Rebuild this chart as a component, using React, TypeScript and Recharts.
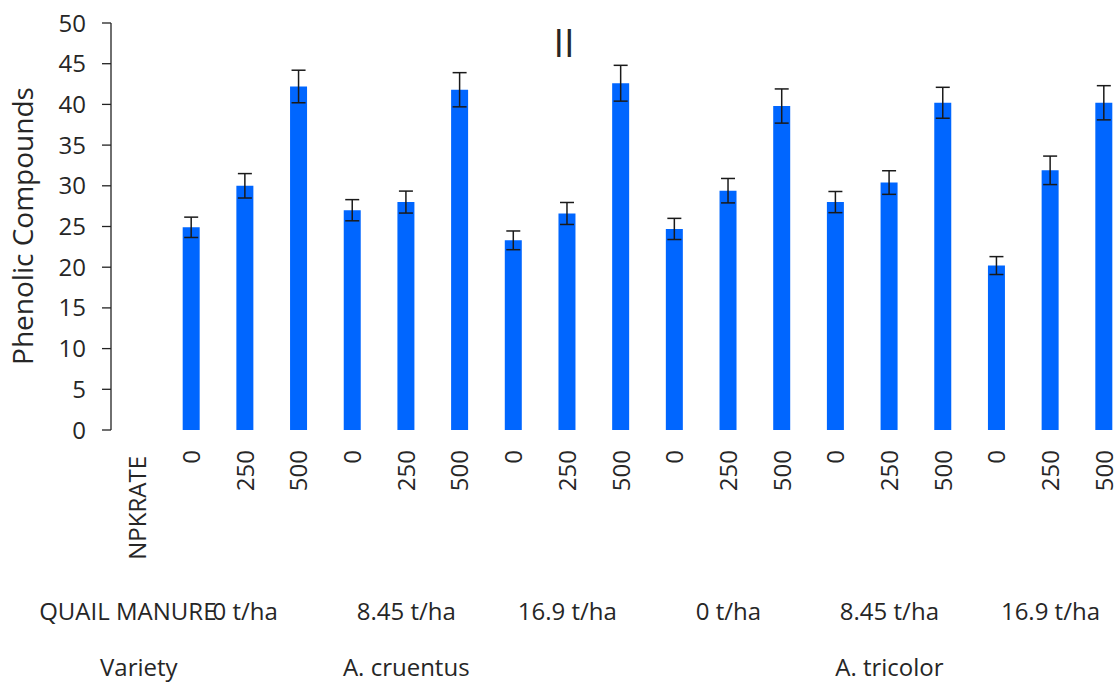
import React from 'react';
import { Bar, BarChart, Customized, ErrorBar, XAxis, YAxis } from 'recharts';

// NPK rate per bar, first slot is the row header column
const npkRates = ['NPKRATE', '0', '250', '500', '0', '250', '500', '0', '250', '500', '0', '250', '500', '0', '250', '500', '0', '250', '500'];
const phenolic = [null, 24.9, 30.0, 42.2, 27.0, 28.0, 41.8, 23.3, 26.6, 42.6, 24.7, 29.4, 39.8, 28.0, 30.4, 40.2, 20.2, 31.9, 40.2];
const phenolicErr = [null, 1.25, 1.5, 2.0, 1.3, 1.35, 2.1, 1.15, 1.35, 2.2, 1.3, 1.5, 2.1, 1.3, 1.45, 1.9, 1.1, 1.75, 2.1];
const manureLevels = ['0 t/ha', '8.45 t/ha', '16.9 t/ha', '0 t/ha', '8.45 t/ha', '16.9 t/ha'];
const varieties = ['A. cruentus', 'A. tricolor'];
const yTicks = [0, 5, 10, 15, 20, 25, 30, 35, 40, 45, 50];

const data = npkRates.map((npk, i) => ({
  id: i,
  npk,
  value: phenolic[i],
  err: phenolicErr[i],
}));

const FONT = '"Open Sans", sans-serif';
const TEXT = '#262626';

function NpkTick({ x, y, payload }: any) {
  const i = payload.value as number;
  const isHeader = i === 0;
  const ty = y + (isHeader ? 26 : 20);
  const lx = x - 1;
  return (
    <g fontFamily={FONT} fill={TEXT}>
      <text
        x={lx}
        y={ty}
        transform={`rotate(-90, ${lx}, ${ty})`}
        textAnchor="end"
        dominantBaseline="central"
        fontSize={24}
        fontWeight={isHeader ? 500 : 400}
      >
        {npkRates[i]}
      </text>
      {isHeader && (
        <>
          <text x={x - 10} y={y + 190} textAnchor="middle" fontSize={24}>QUAIL MANURE</text>
          <text x={x + 1} y={y + 246} textAnchor="middle" fontSize={24}>Variety</text>
        </>
      )}
      {!isHeader && (i - 1) % 3 === 1 && (
        <text x={x} y={y + 190} textAnchor="middle" fontSize={24}>
          {manureLevels[(i - 2) / 3]}
        </text>
      )}
      {!isHeader && (i - 1) % 9 === 4 && (
        <text x={x} y={y + 246} textAnchor="middle" fontSize={24}>
          {varieties[(i - 5) / 9]}
        </text>
      )}
    </g>
  );
}

function Titles() {
  return (
    <g fontFamily={FONT} fill={TEXT}>
      <text x={564} y={57} textAnchor="middle" fontSize={38}>II</text>
      <text
        x={33}
        y={226}
        transform="rotate(-90, 33, 226)"
        textAnchor="middle"
        fontSize={28}
      >
        Phenolic Compounds
      </text>
    </g>
  );
}

export default function App() {
  return (
    <div
      style={{
        position: 'absolute',
        left: 0,
        top: 0,
        width: 1119,
        height: 686,
        overflow: 'hidden',
        background: '#fff',
      }}
    >
      <BarChart
        width={1140}
        height={686}
        data={data}
        margin={{ top: 23, right: 9, left: 0, bottom: 0 }}
      >
        <XAxis
          dataKey="id"
          type="category"
          axisLine={false}
          tickLine={false}
          tickSize={0}
          tickMargin={0}
          height={256}
          interval={0}
          tick={<NpkTick />}
        />
        <YAxis
          width={111}
          domain={[0, 50]}
          ticks={yTicks}
          interval={0}
          axisLine={{ stroke: '#222', strokeWidth: 1.3 }}
          tickLine={{ stroke: '#222', strokeWidth: 1.3 }}
          tickSize={9}
          tickMargin={16}
          tick={{ fontSize: 24, fill: TEXT, fontFamily: FONT }}
        />
        <Bar dataKey="value" fill="#0066ff" barSize={17} isAnimationActive={false}>
          <ErrorBar dataKey="err" width={7} stroke="#1a1a1a" strokeWidth={1.5} isAnimationActive={false} />
        </Bar>
        <Customized component={Titles} />
      </BarChart>
    </div>
  );
}
